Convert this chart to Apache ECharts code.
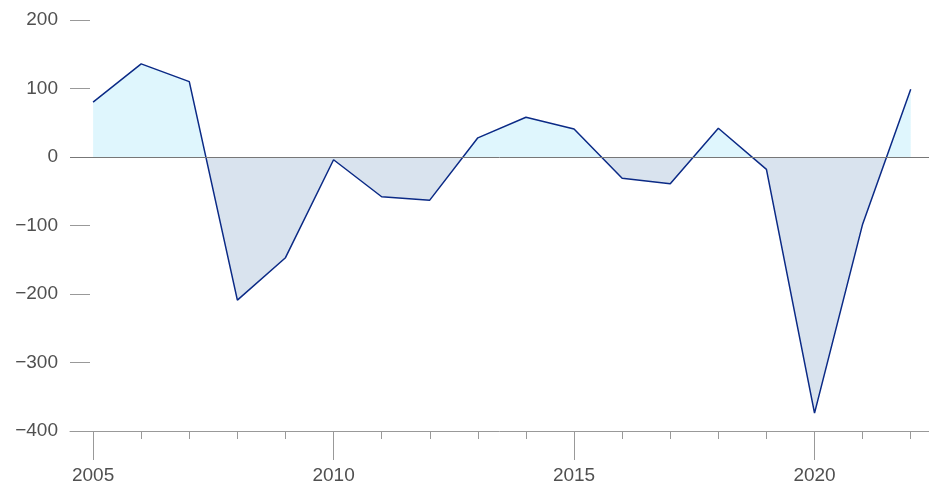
<!DOCTYPE html>
<html>
<head>
<meta charset="utf-8">
<script src="https://cdn.jsdelivr.net/npm/echarts@6/dist/echarts.min.js"></script>
<style>
  html, body { margin: 0; padding: 0; background: #fff; }
  #chart { width: 929px; height: 487px; }
</style>
</head>
<body>
<div id="chart"></div>
<script>
const years = [2005, 2006, 2007, 2008, 2009, 2010, 2011, 2012, 2013, 2014, 2015, 2016, 2017, 2018, 2019, 2020, 2021, 2022];
const values = [80, 136, 110, -209, -147, -4, -58, -63, 28, 58, 41, -31, -39, 42, -18, -374, -98, 99];
const labelYears = [2005, 2010, 2015, 2020];

const fmtY = (v) => (v < 0 ? '\u2212' + Math.abs(v) : String(v));

// split point for the two fill colours (area box runs from max to min)
const vmax = Math.max(0, ...values);
const vmin = Math.min(0, ...values);
const zeroAt = vmax / (vmax - vmin);

const chart = echarts.init(document.getElementById('chart'));
chart.setOption({
  animation: false,
  grid: { left: 70, right: 0, top: 20, bottom: 56, containLabel: false },
  xAxis: [
    {
      type: 'value', min: 2004.52, max: 2022.38,
      axisLine: { show: true, onZero: false, lineStyle: { color: '#999', width: 1 } },
      axisTick: { show: true, customValues: years, length: 8, lineStyle: { color: '#999' } },
      axisLabel: { show: false },
      splitLine: { show: false }
    },
    {
      type: 'value', min: 2004.52, max: 2022.38, position: 'bottom',
      axisLine: { show: false, onZero: false },
      axisTick: { show: true, customValues: labelYears, length: 29, lineStyle: { color: '#999' } },
      axisLabel: {
        show: true, customValues: labelYears, margin: 35,
        color: '#505050', fontSize: 19, fontFamily: 'Liberation Sans',
        formatter: (v) => String(v)
      },
      splitLine: { show: false }
    }
  ],
  yAxis: {
    type: 'value', min: -400, max: 200, interval: 100,
    axisLine: { show: false },
    axisTick: { show: true, inside: true, length: 20, lineStyle: { color: '#999' } },
    axisLabel: { margin: 12, color: '#505050', fontSize: 19, fontFamily: 'Liberation Sans', formatter: fmtY },
    splitLine: { show: false }
  },
  series: [{
    type: 'line',
    xAxisIndex: 0,
    data: years.map((y, i) => [y, values[i]]),
    symbol: 'none',
    lineStyle: { color: '#0b2a86', width: 1.5 },
    areaStyle: {
      origin: 0,
      opacity: 1,
      color: {
        type: 'linear', x: 0, y: 0, x2: 0, y2: 1,
        colorStops: [
          { offset: 0, color: '#dff6fd' },
          { offset: zeroAt, color: '#dff6fd' },
          { offset: zeroAt, color: '#d9e3ee' },
          { offset: 1, color: '#d9e3ee' }
        ]
      }
    },
    markLine: {
      silent: true, symbol: 'none', label: { show: false },
      lineStyle: { color: '#777', width: 1, type: 'solid' },
      data: [{ yAxis: 0 }]
    }
  }]
});
</script>
</body>
</html>
